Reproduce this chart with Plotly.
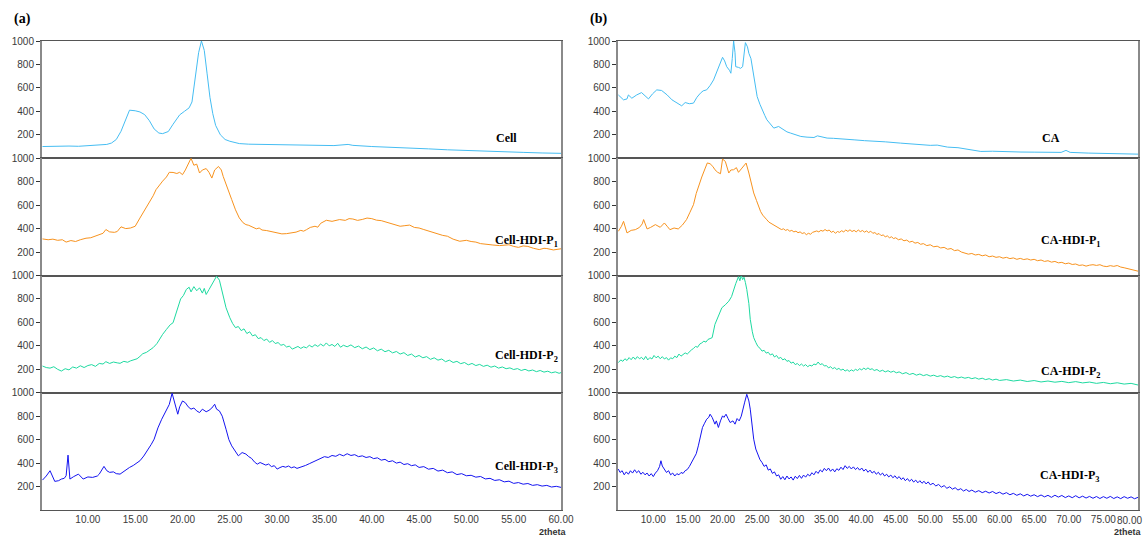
import plotly.graph_objects as go

# ---------------- data: (2theta, intensity) ----------------
cell_pts = [(5.2, 100), (6, 102), (7, 100), (8, 104), (9, 102), (10, 106), (11, 110), (12, 118), (12.5, 130), (13, 160), (13.5, 230), (14, 330), (14.4, 410), (15, 405), (15.5, 395), (16, 372), (16.5, 320), (17, 250), (17.5, 215), (17.9, 210), (18.5, 228), (19, 290), (19.7, 370), (20.2, 400), (20.7, 430), (21.0, 480), (21.4, 700), (21.7, 900), (22.0, 1000), (22.3, 920), (22.6, 720), (22.9, 520), (23.2, 380), (23.5, 280), (24, 200), (24.5, 160), (25, 145), (26, 125), (27, 120), (28, 118), (30, 115), (32, 110), (34, 112), (36, 108), (37.5, 118), (38, 110), (40, 100), (42, 95), (44, 88), (46, 80), (48, 72), (50, 68), (52, 60), (54, 55), (56, 50), (58, 45), (60, 42)]

cell_p1_pts = [(5.2, 312), (5.8, 305), (6.3, 310), (6.8, 300), (7.3, 305), (7.7, 285), (8.2, 298), (8.7, 290), (9.2, 305), (9.8, 318), (10.3, 322), (10.8, 335), (11.2, 350), (11.6, 360), (11.9, 392), (12.3, 372), (12.8, 368), (13.1, 375), (13.5, 415), (14.0, 400), (14.5, 405), (15.0, 420), (15.5, 490), (16.0, 560), (16.5, 618), (16.9, 680), (17.2, 732), (17.6, 780), (17.9, 805), (18.3, 840), (18.6, 880), (19.0, 879), (19.4, 870), (19.7, 880), (20.0, 860), (20.3, 900), (20.6, 950), (20.9, 1000), (21.2, 940), (21.5, 950), (21.8, 874), (22.1, 900), (22.5, 912), (22.8, 880), (23.1, 831), (23.4, 900), (23.8, 930), (24.1, 900), (24.3, 845), (24.7, 750), (25.2, 647), (25.6, 560), (26.0, 491), (26.4, 450), (26.7, 434), (27.0, 428), (27.4, 412), (27.8, 398), (28.1, 405), (28.4, 388), (28.9, 383), (29.2, 378), (29.5, 368), (30.0, 365), (30.5, 355), (31.0, 357), (31.5, 362), (32.0, 370), (32.5, 385), (32.8, 378), (33.1, 391), (33.5, 410), (34.0, 420), (34.3, 412), (34.6, 445), (35.2, 471), (35.8, 462), (36.2, 470), (36.6, 477), (37.2, 470), (37.6, 485), (38, 482), (38.5, 470), (39, 478), (39.5, 490), (40, 485), (40.5, 472), (41, 468), (41.5, 455), (42, 445), (42.5, 432), (43, 420), (43.5, 425), (44, 430), (44.5, 410), (45, 405), (45.5, 392), (46, 380), (46.5, 365), (47, 350), (47.5, 342), (48, 335), (48.6, 310), (49.3, 292), (50, 300), (50.5, 290), (51, 285), (51.5, 272), (52, 265), (52.8, 260), (53.5, 255), (54.5, 262), (55.0, 248), (55.5, 240), (56.0, 252), (56.5, 248), (57.1, 232), (57.7, 221), (58.2, 232), (58.5, 230), (59.2, 218), (60, 228)]

cell_p2_pts = [(5.2, 228), (5.6, 215), (6.0, 210), (6.4, 222), (6.8, 200), (7.2, 185), (7.6, 205), (8.0, 195), (8.4, 220), (8.8, 210), (9.2, 230), (9.6, 215), (10.0, 232), (10.4, 240), (10.8, 225), (11.2, 250), (11.6, 245), (11.9, 265), (12.3, 250), (12.7, 262), (13.1, 255), (13.4, 251), (13.8, 268), (14.2, 260), (14.5, 272), (14.8, 277), (15.2, 290), (15.5, 310), (15.8, 333), (16.2, 345), (16.5, 360), (16.9, 385), (17.3, 420), (17.6, 460), (17.9, 498), (18.3, 540), (18.7, 580), (19.0, 597), (19.3, 680), (19.5, 725), (19.8, 800), (20.1, 830), (20.4, 881), (20.7, 900), (20.9, 860), (21.2, 905), (21.5, 870), (21.8, 895), (22.1, 850), (22.3, 890), (22.5, 838), (22.8, 880), (23.0, 909), (23.3, 950), (23.6, 994), (23.9, 960), (24.1, 895), (24.4, 800), (24.6, 725), (25.0, 640), (25.3, 590), (25.6, 555), (25.9, 565), (26.2, 530), (26.5, 545), (26.8, 505), (27.1, 520), (27.4, 485), (27.7, 495), (28.0, 462), (28.3, 470), (28.6, 445), (28.9, 458), (29.2, 430), (29.5, 445), (29.8, 420), (30.1, 428), (30.4, 405), (30.7, 412), (31.0, 390), (31.3, 398), (31.6, 372), (31.9, 385), (32.2, 395), (32.5, 378), (32.8, 392), (33.1, 383), (33.4, 405), (33.7, 390), (34.0, 410), (34.3, 395), (34.6, 415), (34.9, 398), (35.2, 425), (35.5, 400), (35.8, 412), (36.1, 395), (36.4, 422), (36.7, 388), (37.0, 405), (37.4, 392), (37.8, 408), (38.2, 385), (38.6, 398), (39.0, 375), (39.4, 390), (39.8, 368), (40.2, 382), (40.6, 358), (41.0, 372), (41.4, 350), (41.8, 362), (42.2, 340), (42.6, 352), (43.0, 330), (43.4, 342), (43.8, 318), (44.2, 330), (44.6, 305), (45.0, 318), (45.4, 298), (45.8, 308), (46.2, 285), (46.6, 298), (47.0, 278), (47.4, 288), (47.8, 265), (48.2, 278), (48.6, 258), (49.0, 268), (49.4, 248), (49.8, 258), (50.2, 238), (50.6, 250), (51.0, 232), (51.4, 242), (51.8, 225), (52.2, 235), (52.6, 218), (53.0, 228), (53.4, 210), (53.8, 220), (54.2, 205), (54.6, 212), (55.0, 198), (55.4, 206), (55.8, 190), (56.2, 200), (56.6, 186), (57.0, 194), (57.4, 180), (57.8, 190), (58.2, 176), (58.6, 184), (59.0, 170), (59.4, 178), (59.8, 166), (60, 172)]

cell_p3_pts = [(5.2, 255), (5.6, 290), (6.0, 335), (6.5, 244), (6.9, 250), (7.2, 264), (7.5, 270), (7.7, 292), (7.9, 468), (8.1, 264), (8.5, 285), (9.0, 306), (9.5, 264), (10.0, 282), (10.5, 278), (11.0, 290), (11.2, 306), (11.5, 340), (11.7, 372), (12.0, 335), (12.3, 321), (12.7, 325), (13.0, 310), (13.4, 306), (13.8, 330), (14.1, 345), (14.4, 363), (14.8, 380), (15.1, 395), (15.5, 420), (15.9, 460), (16.3, 505), (16.7, 560), (17.0, 604), (17.4, 700), (17.8, 774), (18.1, 820), (18.3, 845), (18.6, 900), (18.9, 996), (19.1, 930), (19.3, 880), (19.5, 817), (19.7, 880), (20.0, 930), (20.3, 915), (20.6, 880), (20.9, 860), (21.2, 870), (21.5, 845), (21.8, 831), (22.1, 860), (22.5, 838), (22.8, 850), (23.1, 870), (23.4, 902), (23.6, 860), (23.9, 845), (24.2, 800), (24.6, 689), (24.9, 600), (25.2, 547), (25.5, 510), (25.9, 462), (26.3, 490), (26.7, 477), (27.0, 455), (27.3, 440), (27.6, 410), (27.9, 391), (28.2, 405), (28.5, 392), (28.8, 383), (29.1, 392), (29.4, 370), (29.7, 378), (30.0, 349), (30.3, 362), (30.6, 372), (30.9, 365), (31.2, 375), (31.5, 360), (31.8, 368), (32.1, 355), (32.4, 362), (32.7, 372), (33.0, 380), (33.4, 395), (33.8, 410), (34.2, 425), (34.6, 440), (35.0, 455), (35.4, 448), (35.8, 465), (36.2, 458), (36.6, 475), (37.0, 462), (37.4, 480), (37.8, 465), (38.2, 472), (38.6, 455), (39.0, 462), (39.4, 448), (39.8, 455), (40.2, 438), (40.6, 445), (41.0, 425), (41.4, 432), (41.8, 412), (42.2, 420), (42.6, 400), (43.0, 408), (43.4, 388), (43.8, 395), (44.2, 378), (44.6, 385), (45.0, 363), (45.5, 370), (46.0, 348), (46.5, 355), (47.0, 332), (47.5, 340), (48.0, 318), (48.5, 325), (49.0, 302), (49.5, 310), (50.0, 292), (50.5, 296), (51.0, 280), (51.5, 286), (52.0, 265), (52.5, 270), (53.0, 252), (53.5, 258), (54.0, 240), (54.5, 246), (55.0, 227), (55.5, 234), (56.0, 220), (56.5, 226), (57.0, 210), (57.5, 216), (58.0, 204), (58.5, 210), (59.0, 196), (59.5, 202), (60, 193)]

ca_pts = [(4.95, 540), (5.7, 498), (6.2, 506), (6.4, 540), (6.9, 512), (7.6, 540), (8.3, 560), (8.8, 530), (9.3, 506), (9.9, 550), (10.5, 583), (11.2, 578), (12.0, 540), (12.7, 498), (13.4, 470), (14.1, 447), (14.6, 475), (15.2, 465), (15.8, 470), (16.3, 520), (16.8, 555), (17.2, 575), (17.7, 583), (18.2, 620), (18.7, 668), (19.1, 730), (19.4, 781), (20.0, 861), (20.3, 830), (20.6, 781), (21.0, 750), (21.2, 725), (21.4, 850), (21.6, 1000), (21.8, 900), (21.9, 781), (22.3, 775), (22.6, 767), (22.9, 781), (23.1, 900), (23.3, 986), (23.6, 950), (23.8, 895), (24.1, 850), (24.3, 781), (24.6, 680), (25.0, 526), (25.4, 460), (25.7, 413), (26.1, 365), (26.4, 328), (26.9, 290), (27.4, 257), (28.1, 271), (28.8, 243), (29.3, 225), (29.8, 215), (30.5, 200), (31.3, 186), (32.2, 180), (33.2, 177), (33.7, 191), (34.3, 182), (35.1, 172), (36.0, 170), (37.1, 163), (38.0, 160), (39.0, 157), (40.5, 150), (42, 148), (43.5, 140), (45.7, 129), (47, 122), (48.5, 118), (50, 110), (51, 112), (52.5, 95), (54, 90), (55.5, 75), (57.3, 58), (59, 60), (61, 55), (63.1, 53), (65, 52), (67, 50), (68.9, 50), (69.6, 67), (70.2, 50), (72.8, 44), (75, 40), (77.6, 35), (80, 35)]

ca_p1_pts = [(4.95, 377), (5.4, 420), (5.7, 462), (6.0, 400), (6.2, 363), (6.8, 385), (7.4, 391), (8.0, 410), (8.4, 440), (8.6, 477), (8.9, 420), (9.1, 397), (9.6, 410), (10.3, 434), (11.0, 411), (11.6, 448), (12.0, 420), (12.4, 391), (13.0, 405), (13.6, 397), (14.2, 430), (14.8, 477), (15.3, 540), (15.8, 604), (16.2, 700), (16.5, 760), (17.0, 840), (17.5, 916), (17.8, 960), (18.2, 953), (18.6, 930), (18.9, 902), (19.3, 880), (19.7, 868), (20.0, 993), (20.4, 973), (20.7, 920), (20.9, 874), (21.2, 900), (21.6, 902), (22.0, 920), (22.3, 880), (22.8, 916), (23.1, 940), (23.4, 959), (23.8, 874), (24.1, 800), (24.5, 704), (24.9, 640), (25.2, 590), (25.5, 545), (25.8, 515), (26.1, 490), (26.4, 475), (26.7, 455), (27.0, 445), (27.3, 430), (27.6, 420), (27.9, 408), (28.2, 400), (28.5, 392), (28.8, 398), (29.1, 385), (29.4, 392), (29.7, 378), (30.0, 385), (30.3, 372), (30.6, 378), (30.9, 365), (31.2, 372), (31.5, 358), (31.8, 365), (32.1, 348), (32.4, 360), (32.7, 352), (33.0, 368), (33.3, 372), (33.6, 380), (33.9, 372), (34.2, 385), (34.5, 378), (34.8, 392), (35.1, 380), (35.4, 388), (35.7, 368), (36.0, 378), (36.3, 360), (36.6, 375), (36.9, 368), (37.2, 382), (37.5, 372), (37.8, 388), (38.1, 376), (38.4, 390), (38.7, 375), (39.0, 385), (39.3, 372), (39.6, 388), (39.9, 374), (40.2, 384), (40.5, 370), (40.8, 380), (41.1, 366), (41.4, 378), (41.7, 360), (42.0, 366), (42.3, 350), (42.6, 358), (42.9, 340), (43.2, 346), (43.5, 330), (43.8, 338), (44.1, 322), (44.4, 330), (44.7, 315), (45.0, 322), (45.4, 305), (45.8, 312), (46.2, 296), (46.6, 302), (47.0, 285), (47.4, 292), (47.8, 276), (48.2, 282), (48.6, 266), (49.0, 272), (49.5, 255), (50.0, 262), (50.5, 245), (51.0, 250), (51.5, 235), (52.0, 240), (52.5, 224), (53.0, 230), (53.5, 212), (54.0, 218), (54.5, 200), (55.0, 192), (55.5, 182), (56.0, 188), (56.5, 175), (57.0, 180), (57.5, 168), (58.0, 175), (58.5, 160), (59.0, 166), (59.5, 155), (60.0, 160), (60.5, 148), (61.0, 155), (61.5, 144), (62.0, 150), (62.5, 138), (63.0, 146), (63.5, 136), (64.0, 142), (64.5, 132), (65.0, 138), (65.5, 126), (66.0, 132), (66.5, 120), (67.0, 126), (67.5, 114), (68.0, 120), (68.5, 108), (69.0, 112), (69.5, 100), (70.0, 106), (70.5, 94), (71.0, 98), (71.5, 86), (72.0, 90), (72.5, 80), (73.0, 88), (73.5, 92), (74.0, 86), (74.5, 92), (75.0, 80), (75.5, 76), (76.0, 84), (76.5, 78), (77.0, 85), (77.5, 72), (78.0, 66), (78.5, 60), (79.0, 55), (79.5, 48), (80.0, 37)]

ca_p2_pts = [(4.95, 257), (5.3, 280), (5.6, 268), (5.9, 290), (6.2, 275), (6.5, 300), (6.8, 282), (7.1, 305), (7.4, 285), (7.7, 308), (8.0, 290), (8.3, 302), (8.6, 282), (8.9, 310), (9.2, 280), (9.5, 300), (9.8, 288), (10.1, 318), (10.4, 298), (10.7, 312), (11.0, 290), (11.3, 308), (11.6, 288), (11.9, 300), (12.2, 278), (12.5, 298), (12.8, 290), (13.1, 312), (13.4, 300), (13.7, 330), (14.0, 312), (14.3, 328), (14.6, 340), (14.9, 330), (15.2, 350), (15.5, 365), (15.8, 378), (16.1, 395), (16.4, 388), (16.7, 415), (17.0, 425), (17.3, 440), (17.6, 432), (17.9, 455), (18.2, 462), (18.5, 470), (18.9, 583), (19.4, 660), (19.9, 725), (20.4, 750), (20.9, 781), (21.3, 820), (21.6, 881), (21.9, 930), (22.1, 960), (22.3, 990), (22.5, 955), (22.7, 1000), (22.9, 965), (23.1, 985), (23.3, 940), (23.5, 881), (23.8, 760), (24.0, 626), (24.3, 520), (24.5, 470), (24.8, 430), (25.1, 395), (25.4, 380), (25.7, 355), (26.0, 362), (26.3, 338), (26.6, 345), (26.9, 322), (27.2, 332), (27.5, 305), (27.8, 318), (28.1, 292), (28.4, 302), (28.7, 280), (29.0, 290), (29.3, 268), (29.6, 275), (29.9, 252), (30.2, 262), (30.5, 240), (30.8, 250), (31.1, 232), (31.4, 245), (31.7, 228), (32.0, 240), (32.3, 222), (32.6, 235), (32.9, 228), (33.2, 245), (33.5, 238), (33.8, 262), (34.1, 240), (34.4, 248), (34.7, 228), (35.0, 232), (35.3, 212), (35.6, 222), (35.9, 205), (36.2, 215), (36.5, 198), (36.8, 208), (37.1, 192), (37.4, 202), (37.7, 185), (38.0, 196), (38.3, 182), (38.6, 195), (38.9, 185), (39.2, 200), (39.5, 190), (39.8, 205), (40.1, 195), (40.4, 210), (40.7, 198), (41.0, 212), (41.3, 198), (41.6, 205), (41.9, 190), (42.3, 198), (42.7, 182), (43.1, 192), (43.5, 178), (43.9, 188), (44.3, 175), (44.7, 184), (45.1, 170), (45.5, 178), (46.0, 162), (46.5, 172), (47.0, 156), (47.5, 165), (48.0, 150), (48.5, 160), (49.0, 146), (49.5, 155), (50.0, 142), (50.5, 150), (51.0, 138), (51.5, 146), (52.0, 134), (52.5, 142), (53.0, 130), (53.5, 138), (54.0, 126), (54.5, 134), (55.0, 124), (55.5, 131), (56.0, 120), (56.5, 128), (57.0, 116), (57.5, 124), (58.0, 112), (58.5, 120), (59.0, 108), (59.5, 116), (60.0, 105), (61, 112), (62, 100), (63, 108), (64, 96), (65, 104), (66, 92), (67, 100), (68, 90), (69, 97), (70, 86), (71, 95), (72, 84), (73, 91), (74, 80), (75, 88), (76, 77), (77, 85), (78, 74), (79, 80), (80, 66)]

ca_p3_pts = [(4.95, 349), (5.2, 320), (5.5, 335), (5.8, 300), (6.1, 325), (6.4, 305), (6.7, 335), (7.0, 315), (7.3, 343), (7.6, 318), (7.9, 335), (8.2, 305), (8.5, 322), (8.8, 300), (9.1, 315), (9.4, 290), (9.7, 310), (10.0, 285), (10.3, 315), (10.6, 335), (10.9, 370), (11.1, 420), (11.3, 375), (11.6, 345), (11.9, 320), (12.2, 335), (12.5, 300), (12.8, 315), (13.1, 290), (13.4, 310), (13.7, 300), (14.0, 320), (14.3, 312), (14.6, 335), (14.9, 345), (15.2, 370), (15.5, 400), (15.8, 434), (16.2, 480), (16.5, 547), (16.8, 620), (17.1, 704), (17.4, 740), (17.7, 774), (18.0, 790), (18.2, 817), (18.5, 790), (18.9, 732), (19.1, 760), (19.4, 704), (19.7, 760), (20.0, 803), (20.2, 790), (20.5, 817), (20.8, 780), (21.1, 746), (21.5, 760), (21.8, 732), (22.1, 780), (22.4, 760), (22.7, 800), (22.9, 860), (23.2, 920), (23.5, 987), (23.8, 930), (24.0, 860), (24.3, 720), (24.5, 604), (24.8, 520), (25.1, 470), (25.4, 430), (25.7, 405), (26.0, 372), (26.3, 385), (26.6, 340), (26.9, 350), (27.2, 312), (27.5, 325), (27.8, 290), (28.1, 300), (28.4, 262), (28.7, 285), (29.0, 258), (29.3, 290), (29.6, 265), (29.9, 282), (30.2, 255), (30.5, 288), (30.8, 268), (31.1, 295), (31.4, 270), (31.7, 298), (32.0, 280), (32.3, 305), (32.6, 290), (32.9, 318), (33.2, 300), (33.5, 330), (33.8, 312), (34.1, 342), (34.4, 325), (34.7, 355), (35.0, 335), (35.3, 358), (35.6, 330), (35.9, 350), (36.2, 325), (36.5, 352), (36.8, 338), (37.1, 365), (37.4, 345), (37.7, 378), (38.0, 355), (38.3, 372), (38.6, 350), (38.9, 368), (39.2, 345), (39.5, 362), (39.8, 340), (40.1, 358), (40.4, 332), (40.7, 348), (41.0, 322), (41.3, 340), (41.6, 315), (41.9, 330), (42.2, 305), (42.5, 322), (42.8, 298), (43.1, 315), (43.4, 290), (43.7, 305), (44.0, 282), (44.3, 298), (44.6, 275), (44.9, 292), (45.2, 268), (45.5, 285), (45.8, 260), (46.1, 275), (46.4, 250), (46.7, 268), (47.0, 245), (47.3, 262), (47.6, 238), (47.9, 255), (48.2, 232), (48.5, 250), (48.8, 228), (49.1, 245), (49.4, 222), (49.7, 240), (50.0, 215), (50.4, 228), (50.8, 205), (51.2, 218), (51.6, 195), (52.0, 208), (52.4, 185), (52.8, 198), (53.2, 178), (53.6, 190), (54.0, 170), (54.4, 182), (54.8, 162), (55.2, 175), (55.6, 158), (56.0, 170), (56.5, 152), (57.0, 165), (57.5, 148), (58.0, 160), (58.5, 145), (59.0, 158), (59.5, 140), (60.0, 152), (60.5, 135), (61.0, 148), (61.5, 130), (62.0, 142), (62.5, 125), (63.0, 138), (63.5, 120), (64.0, 134), (64.5, 118), (65.0, 130), (65.5, 114), (66.0, 128), (66.5, 112), (67.0, 125), (67.5, 108), (68.0, 126), (68.5, 110), (69.0, 124), (69.5, 106), (70.0, 120), (70.5, 105), (71.0, 122), (71.5, 104), (72.0, 118), (72.5, 102), (73.0, 116), (73.5, 100), (74.0, 115), (74.5, 98), (75.0, 114), (75.5, 100), (76.0, 116), (76.5, 98), (77.0, 112), (77.5, 97), (78.0, 114), (78.5, 100), (79.0, 112), (79.5, 96), (80.0, 108)]

left_ticks = [10, 15, 20, 25, 30, 35, 40, 45, 50, 55, 60]
right_ticks = [10, 15, 20, 25, 30, 35, 40, 45, 50, 55, 60, 65, 70, 75]
right_last_tick = "80.00"
y_ticks = [200, 400, 600, 800, 1000]

left_names = ["Cell", "Cell-HDI-P<sub>1</sub>", "Cell-HDI-P<sub>2</sub>", "Cell-HDI-P<sub>3</sub>"]
right_names = ["CA", "CA-HDI-P<sub>1</sub>", "CA-HDI-P<sub>2</sub>", "CA-HDI-P<sub>3</sub>"]

colors = ["#45BDF2", "#F7921E", "#1ED9A0", "#1414F0"]

# ---------------- layout geometry ----------------
W, H = 1144, 539
top_px, row_h = 41, 117.25
left_dom = [42 / W, 561 / W]
right_dom = [618 / W, 1138 / W]

fig = go.Figure()

left_series = [cell_pts, cell_p1_pts, cell_p2_pts, cell_p3_pts]
right_series = [ca_pts, ca_p1_pts, ca_p2_pts, ca_p3_pts]

layout = dict(
    width=W, height=H, margin=dict(l=0, r=0, t=0, b=0, autoexpand=False),
    paper_bgcolor="white", plot_bgcolor="white", showlegend=False,
)

tick_font = dict(family="Liberation Sans, Arial, sans-serif", size=10, color="#3a3a3a")

for side in range(2):
    series = left_series if side == 0 else right_series
    for r in range(4):
        idx = side * 4 + r + 1
        sx = "" if idx == 1 else str(idx)
        pts = series[r]
        xs = [p[0] for p in pts]
        ys = [p[1] for p in pts]
        fig.add_trace(go.Scatter(x=xs, y=ys, mode="lines",
                                 line=dict(color=colors[r], width=1),
                                 xaxis="x" + sx, yaxis="y" + sx, hoverinfo="skip"))
        t = top_px + r * row_h
        b = t + row_h
        ydom = [1 - b / H, 1 - t / H]
        dom = left_dom if side == 0 else right_dom
        rng = [5.15, 60] if side == 0 else [4.9, 80]
        tv = left_ticks if side == 0 else right_ticks
        last = (r == 3)
        layout["xaxis" + sx] = dict(
            domain=dom, range=rng, anchor="y" + sx, automargin=False,
            showline=True, mirror=True, linecolor="#555555", linewidth=1,
            showgrid=False, zeroline=False, ticks="",
            tickvals=tv, ticktext=["%.2f" % v for v in tv],
            showticklabels=last, tickfont=tick_font,
        )
        layout["yaxis" + sx] = dict(
            domain=ydom, range=[0, 1000], anchor="x" + sx, automargin=False,
            showline=True, mirror=True, linecolor="#8a8a8a", linewidth=2,
            showgrid=False, zeroline=False,
            ticks="outside", ticklen=4, tickcolor="#333", tickwidth=1,
            tickvals=y_ticks, ticktext=[str(v) for v in y_ticks],
            tickfont=tick_font,
        )

fig.update_layout(**layout)

serif = "Liberation Serif, Times New Roman, serif"
anns = []
anns.append(dict(x=12 / W, y=1 - 19 / H, text="<b>(a)</b>", xref="paper", yref="paper",
                 showarrow=False, xanchor="left", yanchor="middle",
                 font=dict(family=serif, size=14, color="black")))
anns.append(dict(x=588 / W, y=1 - 19 / H, text="<b>(b)</b>", xref="paper", yref="paper",
                 showarrow=False, xanchor="left", yanchor="middle",
                 font=dict(family=serif, size=14, color="black")))

left_label_pos = [(506, 138), (526, 241), (526, 356), (526, 467)]
right_label_pos = [(1051, 138), (1071, 241), (1071, 372), (1070, 476)]
for names, poss in ((left_names, left_label_pos), (right_names, right_label_pos)):
    for name, (px, py) in zip(names, poss):
        anns.append(dict(x=px / W, y=1 - py / H, text="<b>" + name + "</b>",
                         xref="paper", yref="paper", showarrow=False,
                         xanchor="center", yanchor="middle",
                         font=dict(family=serif, size=12, color="black")))

# last tick label of the right panel sits at the page edge
anns.append(dict(x=1.0, y=1 - 520 / H, text=right_last_tick, xref="paper", yref="paper",
                 showarrow=False, xanchor="right", yanchor="middle",
                 font=tick_font))

for px in (553, 1128):
    anns.append(dict(x=px / W, y=1 - 532 / H, text="<b>2theta</b>", xref="paper", yref="paper",
                     showarrow=False, xanchor="center", yanchor="middle",
                     font=dict(family="Liberation Sans, Arial, sans-serif", size=9, color="#333")))

fig.update_layout(annotations=anns)
fig.write_html(
    "out.html",
    config={"displayModeBar": False, "responsive": False},
    post_script=("document.documentElement.style.margin='0';"
                 "document.documentElement.style.overflow='hidden';"
                 "document.body.style.margin='0';"
                 "document.body.style.overflow='hidden';"),
)
